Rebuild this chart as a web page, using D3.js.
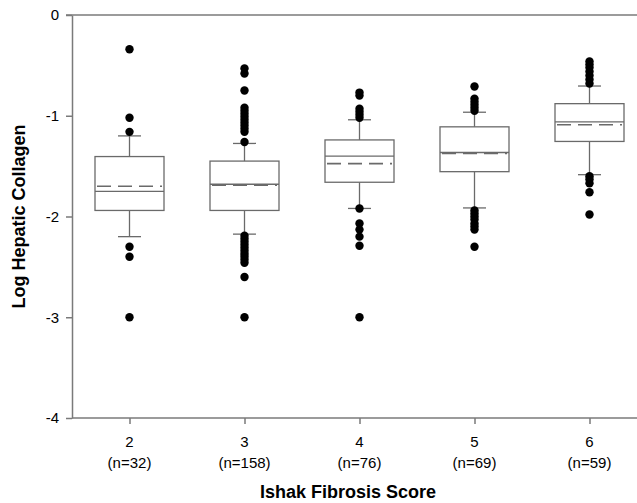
<!DOCTYPE html>
<html>
<head>
<meta charset="utf-8">
<script src="https://cdn.jsdelivr.net/npm/d3@7"></script>
<style>
  body { margin: 0; background: #fff; }
  text { font-family: "Liberation Sans", Arial, sans-serif; fill: #000; }
</style>
</head>
<body>
<div id="chart"></div>
<script>
// fibrosis score groups
var scores = [2, 3, 4, 5, 6];
var counts = [32, 158, 76, 69, 59];

// box stats (log hepatic collagen)
var q1s      = [-1.94, -1.94, -1.66, -1.555, -1.255];
var medians  = [-1.75, -1.68, -1.40, -1.365, -1.06];
var q3s      = [-1.405, -1.45, -1.24, -1.11, -0.88];
var means    = [-1.70, -1.69, -1.475, -1.375, -1.09];
var whiskLo  = [-2.20, -2.175, -1.92, -1.915, -1.585];
var whiskHi  = [-1.20, -1.275, -1.04, -0.965, -0.705];

// outliers per group
var outliers = [
  [-0.34, -1.02, -1.16, -2.30, -2.40, -3.0],
  [-0.53, -0.58, -0.75, -0.92, -0.95, -0.98, -1.01, -1.04, -1.07, -1.10, -1.13, -1.16, -1.26,
   -2.19, -2.22, -2.25, -2.28, -2.31, -2.34, -2.37, -2.40, -2.43, -2.46, -2.60, -3.0],
  [-0.77, -0.80, -0.93, -0.96, -0.99, -1.02, -1.92, -2.07, -2.13, -2.20, -2.29, -3.0],
  [-0.71, -0.83, -0.86, -0.89, -0.92, -0.95, -1.94, -1.97, -2.00, -2.03, -2.07, -2.10, -2.13, -2.30],
  [-0.46, -0.49, -0.52, -0.56, -0.60, -0.64, -0.68, -1.60, -1.63, -1.67, -1.76, -1.98]
];

var yTicks = [0, -1, -2, -3, -4];

var W = 637, H = 503;
var plotLeft = 72, plotTop = 15, plotBottom = 418;

var svg = d3.select("#chart").append("svg")
  .attr("width", W).attr("height", H);

var x = d3.scaleLinear().domain([1.5, 6.5]).range([plotLeft, plotLeft + 575]);
var y = d3.scaleLinear().domain([-4, 0]).range([plotBottom, plotTop]);

var axisColor = "#7a7a7a", boxColor = "#6a6a6a";

// top frame line
svg.append("line")
  .attr("x1", plotLeft - 6).attr("x2", W)
  .attr("y1", y(0)).attr("y2", y(0))
  .attr("stroke", axisColor).attr("stroke-width", 1.5);

// y axis
var yAxis = svg.append("g")
  .attr("transform", "translate(" + plotLeft + ",0)")
  .call(d3.axisLeft(y).tickValues(yTicks).tickSize(6).tickSizeOuter(0)
    .tickFormat(function(d) { return d === 0 ? "0" : String(d); }));
yAxis.select(".domain").attr("stroke", axisColor).attr("stroke-width", 1.5);
yAxis.selectAll(".tick line").attr("stroke", axisColor).attr("stroke-width", 1.5);
yAxis.selectAll(".tick text").attr("font-size", 15).attr("x", -13)
  .attr("font-family", "Liberation Sans, Arial, sans-serif").attr("fill", "#000");

// x axis
var xAxis = svg.append("g")
  .attr("transform", "translate(0," + plotBottom + ")")
  .call(d3.axisBottom(x).tickValues(scores).tickSize(6).tickSizeOuter(0).tickFormat(""));
xAxis.select(".domain").attr("d", "M" + plotLeft + ",0H" + W)
  .attr("stroke", axisColor).attr("stroke-width", 1.5);
xAxis.selectAll(".tick line").attr("stroke", axisColor).attr("stroke-width", 1.5);

var xlab = svg.append("g");
scores.forEach(function(s, i) {
  xlab.append("text").attr("x", x(s)).attr("y", 447)
    .attr("text-anchor", "middle").attr("font-size", 15).text(s);
  xlab.append("text").attr("x", x(s)).attr("y", 468)
    .attr("text-anchor", "middle").attr("font-size", 15).text("(n=" + counts[i] + ")");
});

// axis titles
svg.append("text")
  .attr("x", 348).attr("y", 498)
  .attr("text-anchor", "middle").attr("font-size", 18).attr("font-weight", "bold")
  .text("Ishak Fibrosis Score");
svg.append("text")
  .attr("transform", "translate(25," + y(-2) + ") rotate(-90)")
  .attr("text-anchor", "middle").attr("font-size", 18).attr("font-weight", "bold")
  .text("Log Hepatic Collagen");

// boxes
var boxW = x(2.3) - x(2), capW = x(2.1) - x(2);
var g = svg.selectAll(".box").data(scores).enter().append("g").attr("class", "box");

g.append("line") // upper whisker
  .attr("x1", function(d) { return x(d); }).attr("x2", function(d) { return x(d); })
  .attr("y1", function(d, i) { return y(q3s[i]); }).attr("y2", function(d, i) { return y(whiskHi[i]); })
  .attr("stroke", boxColor).attr("stroke-width", 1.3);
g.append("line") // lower whisker
  .attr("x1", function(d) { return x(d); }).attr("x2", function(d) { return x(d); })
  .attr("y1", function(d, i) { return y(q1s[i]); }).attr("y2", function(d, i) { return y(whiskLo[i]); })
  .attr("stroke", boxColor).attr("stroke-width", 1.3);
[whiskHi, whiskLo].forEach(function(arr) {
  g.append("line")
    .attr("x1", function(d) { return x(d) - capW; }).attr("x2", function(d) { return x(d) + capW; })
    .attr("y1", function(d, i) { return y(arr[i]); }).attr("y2", function(d, i) { return y(arr[i]); })
    .attr("stroke", boxColor).attr("stroke-width", 1.3);
});
g.append("rect")
  .attr("x", function(d) { return x(d) - boxW; })
  .attr("width", 2 * boxW)
  .attr("y", function(d, i) { return y(q3s[i]); })
  .attr("height", function(d, i) { return y(q1s[i]) - y(q3s[i]); })
  .attr("fill", "none").attr("stroke", boxColor).attr("stroke-width", 1.3);
g.append("line") // median
  .attr("x1", function(d) { return x(d) - boxW; }).attr("x2", function(d) { return x(d) + boxW; })
  .attr("y1", function(d, i) { return y(medians[i]); }).attr("y2", function(d, i) { return y(medians[i]); })
  .attr("stroke", boxColor).attr("stroke-width", 1.3);
g.append("line") // mean, dashed
  .attr("x1", function(d) { return x(d) - boxW + 2; }).attr("x2", function(d) { return x(d) + boxW - 2; })
  .attr("y1", function(d, i) { return y(means[i]); }).attr("y2", function(d, i) { return y(means[i]); })
  .attr("stroke", boxColor).attr("stroke-width", 1.6).attr("stroke-dasharray", "14,7");

// outlier dots
g.each(function(d, i) {
  d3.select(this).selectAll("circle").data(outliers[i]).enter().append("circle")
    .attr("cx", x(d)).attr("cy", function(v) { return y(v); })
    .attr("r", 4.2).attr("fill", "#000");
});
</script>
</body>
</html>
